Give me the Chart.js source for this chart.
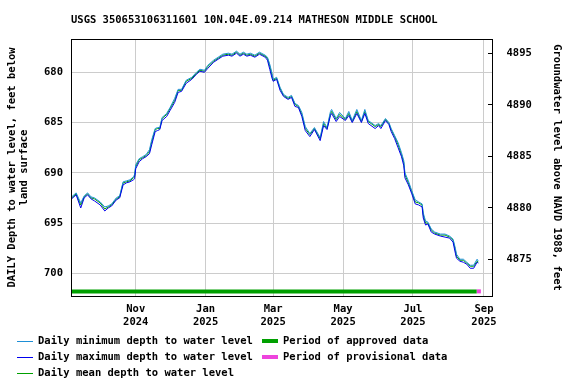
<!DOCTYPE html>
<html>
<head>
<meta charset="utf-8">
<script src="https://cdn.jsdelivr.net/npm/chart.js@4.4.1/dist/chart.umd.min.js"></script>
<style>
  html, body { margin: 0; padding: 0; background: #fff; }
  #wrap { width: 576px; height: 384px; }
</style>
</head>
<body>
<div id="wrap"><canvas id="chart" width="576" height="384"></canvas></div>
<script>
// =====================================
// Data (x = days since 2024-09-01, depth in feet below land surface)
// =====================================
const days = [5,9,13,16,19,22,25,30,34,37,
  40,44,47,50,53,56,59,60,61,64,
  67,70,73,75,78,80,82,84,88,91,
  95,98,101,105,110,114,117,121,124,129,
  133,137,142,145,149,152,155,158,161,165,
  169,174,176,178,180,181,184,187,190,194,
  197,200,203,206,209,213,217,222,225,228,
  231,232,236,239,244,247,250,254,258,261,
  264,270,273,275,279,282,284,287,290,293,
  295,296,299,302,305,308,311,312,314,316,
  319,322,327,331,335,338,340,341,344,347,
  350,353,356,359,360];

const meanDepth = [692.5,692.1,693.2,692.4,692.1,692.5,692.6,693.0,693.6,693.4,
  693.2,692.6,692.4,691.0,690.9,690.8,690.5,690.4,689.4,688.7,
  688.5,688.3,687.9,686.9,685.7,685.6,685.6,684.6,684.2,683.6,
  682.8,681.8,681.8,680.9,680.6,680.1,679.8,679.9,679.4,678.9,
  678.6,678.3,678.2,678.3,678.0,678.3,678.1,678.3,678.2,678.4,
  678.1,678.4,678.6,679.4,680.3,680.8,680.6,681.6,682.3,682.6,
  682.4,683.2,683.4,684.2,685.6,686.2,685.6,686.6,685.1,685.6,
  684.1,683.9,684.7,684.2,684.7,684.1,684.9,683.9,684.9,683.9,
  684.9,685.4,685.2,685.4,684.7,685.1,685.7,686.4,687.2,688.2,
  689.0,690.2,691.0,691.9,692.9,693.0,693.2,694.2,695.0,695.0,
  695.7,696.0,696.2,696.2,696.4,696.7,697.7,698.3,698.7,698.7,
  699.0,699.3,699.3,698.8,698.9];

const minDepth = [692.4,692.0,693.0,692.3,692.0,692.4,692.5,692.9,693.4,693.3,
  693.1,692.5,692.3,690.9,690.8,690.7,690.4,690.2,689.2,688.6,
  688.4,688.2,687.7,686.7,685.6,685.5,685.5,684.5,684.1,683.5,
  682.6,681.7,681.7,680.8,680.5,680.0,679.7,679.8,679.3,678.8,
  678.5,678.2,678.1,678.2,677.9,678.2,678.0,678.2,678.1,678.3,
  678.0,678.3,678.5,679.2,680.1,680.7,680.5,681.5,682.2,682.5,
  682.3,683.1,683.3,684.0,685.4,686.1,685.5,686.5,684.9,685.5,
  683.9,683.7,684.6,684.0,684.6,683.9,684.8,683.7,684.8,683.7,
  684.8,685.3,685.1,685.3,684.6,685.0,685.6,686.3,687.0,688.0,
  688.8,690.0,690.8,691.8,692.7,692.9,693.1,694.0,694.8,694.9,
  695.6,695.9,696.1,696.1,696.3,696.6,697.5,698.1,698.6,698.6,
  698.9,699.2,699.2,698.6,698.8];

const maxDepth = [692.6,692.2,693.5,692.5,692.2,692.6,692.8,693.2,693.8,693.5,
  693.3,692.7,692.5,691.2,691.0,690.9,690.7,690.6,689.6,688.9,
  688.6,688.4,688.1,687.2,685.9,685.8,685.7,684.8,684.4,683.8,
  683.0,682.0,681.9,681.1,680.7,680.2,679.9,680.0,679.6,679.0,
  678.7,678.4,678.3,678.4,678.1,678.4,678.2,678.4,678.3,678.5,
  678.2,678.5,678.8,679.7,680.6,680.9,680.7,681.8,682.4,682.7,
  682.5,683.4,683.5,684.4,685.8,686.4,685.7,686.8,685.3,685.7,
  684.3,684.1,684.9,684.4,684.8,684.3,685.0,684.1,685.0,684.1,
  685.1,685.6,685.3,685.6,684.8,685.2,685.9,686.6,687.5,688.4,
  689.3,690.5,691.2,692.1,693.1,693.2,693.4,694.5,695.2,695.1,
  695.9,696.1,696.3,696.4,696.5,696.9,698.0,698.5,698.8,698.9,
  699.1,699.5,699.5,698.9,699.0];

// Approval periods (start day, end day)
const approvedPeriod = [4.5, 358.6];
const provisionalPeriod = [358.6, 362.3];
const periodBarDepth = 701.8;

// Axis ticks
const xTickDays = [61, 122, 181, 242, 303, 365];
const xTickMonths = ["Nov", "Jan", "Mar", "May", "Jul", "Sep"];
const xTickYears = ["2024", "2025", "2025", "2025", "2025", "2025"];
const depthTicks = [680, 685, 690, 695, 700];
const elevTicks = [4875, 4880, 4885, 4890, 4895];

const COLORS = {
    min: "#1e8fd6",
    max: "#0000ee",
    mean: "#00a000",
    approved: "#00a000",
    provisional: "#ee44dd",
    grid: "#cccccc"
};

const FONT = "'DejaVu Sans Mono', monospace";

// =====================================
// Plugins: frame around plot + two-column legend
// =====================================
const framePlugin = {
    id: "frame",
    afterDraw(chart) {
        const { left, right, top, bottom } = chart.chartArea;
        const ctx = chart.ctx;
        ctx.save();
        ctx.strokeStyle = "#000";
        ctx.lineWidth = 1;
        const l = Math.floor(left) + 0.5, t = Math.floor(top) + 0.5;
        const r = Math.floor(right) + 0.5, b = Math.floor(bottom) + 0.5;
        ctx.strokeRect(l, t, r - l, b - t);
        ctx.restore();
    }
};

const legendEntries = [
    { label: "Daily minimum depth to water level", color: COLORS.min, width: 1, col: 0, row: 0 },
    { label: "Daily maximum depth to water level", color: COLORS.max, width: 1, col: 0, row: 1 },
    { label: "Daily mean depth to water level", color: COLORS.mean, width: 1, col: 0, row: 2 },
    { label: "Period of approved data", color: COLORS.approved, width: 4, col: 1, row: 0 },
    { label: "Period of provisional data", color: COLORS.provisional, width: 4, col: 1, row: 1 }
];

const legendPlugin = {
    id: "usgsLegend",
    afterDraw(chart) {
        const ctx = chart.ctx;
        const colX = [17, 262];
        const sampleLen = [16, 16];
        const rowY = [341, 357, 373];
        ctx.save();
        ctx.font = "bold 10.5px " + FONT;
        ctx.textBaseline = "middle";
        ctx.textAlign = "left";
        legendEntries.forEach(e => {
            const x = colX[e.col];
            const y = rowY[e.row];
            ctx.strokeStyle = e.color;
            ctx.lineWidth = e.width;
            ctx.beginPath();
            const yy = e.width % 2 ? y + 0.5 : y;
            ctx.moveTo(x, yy);
            ctx.lineTo(x + sampleLen[e.col], yy);
            ctx.stroke();
            ctx.fillStyle = "#000";
            ctx.fillText(e.label, x + sampleLen[e.col] + 5, y + 0.5);
        });
        ctx.restore();
    }
};

// =====================================
// Build chart
// =====================================
function toPoints(xs, ys) {
    return xs.map((x, i) => ({ x: x, y: ys[i] }));
}

Chart.defaults.font.family = FONT;
Chart.defaults.font.size = 10.5;
Chart.defaults.font.weight = "bold";
Chart.defaults.color = "#000";

const ctx = document.getElementById("chart").getContext("2d");
new Chart(ctx, {
    type: "line",
    data: {
        datasets: [
            {
                label: "Daily maximum depth to water level",
                data: toPoints(days, maxDepth),
                borderColor: COLORS.max,
                borderWidth: 1,
                yAxisID: "y"
            },
            {
                label: "Daily minimum depth to water level",
                data: toPoints(days, minDepth),
                borderColor: COLORS.min,
                borderWidth: 1,
                yAxisID: "y"
            },
            {
                label: "Daily mean depth to water level",
                data: toPoints(days, meanDepth),
                borderColor: COLORS.mean,
                borderWidth: 1,
                yAxisID: "y"
            },
            {
                label: "Period of approved data",
                data: approvedPeriod.map(d => ({ x: d, y: periodBarDepth })),
                borderColor: COLORS.approved,
                borderWidth: 4,
                borderCapStyle: "butt",
                yAxisID: "y"
            },
            {
                label: "Period of provisional data",
                data: provisionalPeriod.map(d => ({ x: d, y: periodBarDepth })),
                borderColor: COLORS.provisional,
                borderWidth: 4,
                borderCapStyle: "butt",
                yAxisID: "y"
            }
        ]
    },
    options: {
        responsive: false,
        animation: false,
        devicePixelRatio: 1,
        layout: { padding: 0 },
        elements: {
            point: { radius: 0 },
            line: { tension: 0 }
        },
        plugins: {
            legend: { display: false },
            tooltip: { enabled: false },
            title: {
                display: true,
                text: "USGS 350653106311601 10N.04E.09.214 MATHESON MIDDLE SCHOOL",
                align: "start",
                fullSize: false,
                color: "#000",
                font: { size: 10.5, weight: "bold", family: FONT },
                padding: { top: 14, bottom: 12.4 }
            }
        },
        scales: {
            x: {
                type: "linear",
                position: "bottom",
                min: 4.5,
                max: 372,
                afterBuildTicks: scale => {
                    scale.ticks = xTickDays.map(v => ({ value: v }));
                },
                afterFit: scale => { scale.height = 88; },
                grid: { color: COLORS.grid, drawTicks: false },
                border: { display: false },
                ticks: {
                    autoSkip: false,
                    maxRotation: 0,
                    padding: 7,
                    font: { lineHeight: 1.25 },
                    callback: value => {
                        const i = xTickDays.indexOf(value);
                        return i >= 0 ? [xTickMonths[i], xTickYears[i]] : "";
                    }
                }
            },
            y: {
                type: "linear",
                position: "left",
                reverse: true,
                min: 676.69,
                max: 702.26,
                afterBuildTicks: scale => {
                    scale.ticks = depthTicks.map(v => ({ value: v }));
                },
                afterFit: scale => { scale.width = 71; },
                grid: { color: COLORS.grid, drawTicks: false },
                border: { display: false },
                ticks: { padding: 8, callback: v => String(v) },
                title: {
                    display: true,
                    text: ["DAILY Depth to water level, feet below", "land surface"],
                    font: { size: 10.5, weight: "bold", family: FONT },
                    padding: { top: 5.5, bottom: 0 }
                }
            },
            y2: {
                type: "linear",
                position: "right",
                min: 4871.44,
                max: 4896.39,
                afterBuildTicks: scale => {
                    scale.ticks = elevTicks.map(v => ({ value: v }));
                },
                afterFit: scale => { scale.width = 84; },
                grid: {
                    drawOnChartArea: false,
                    drawTicks: true,
                    tickLength: -4,
                    color: "#000"
                },
                border: { display: false },
                ticks: { padding: 18.5, callback: v => String(v) },
                title: {
                    display: true,
                    text: "Groundwater level above NAVD 1988, feet",
                    font: { size: 10.5, weight: "bold", family: FONT },
                    padding: { top: 13, bottom: 0 }
                }
            }
        }
    },
    plugins: [framePlugin, legendPlugin]
});
</script>
</body>
</html>
